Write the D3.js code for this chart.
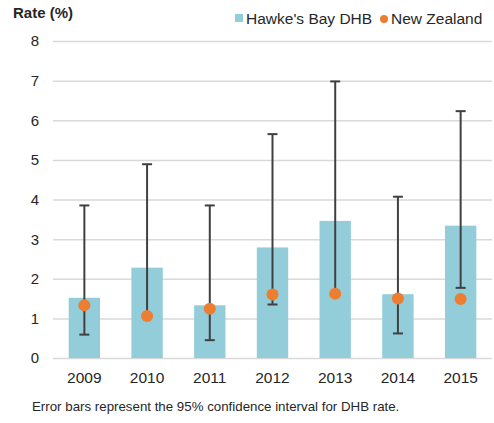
<!DOCTYPE html>
<html lang="en">
<head>
<meta charset="UTF-8">
<title>Hawke's Bay DHB rate</title>
<style>
  body { margin: 0; background: #fff; }
  text { font-family: "Liberation Sans", Arial, sans-serif; fill: #262626; }
  .grid line { stroke: #d9d9d9; stroke-width: 1.5; }
  .grid .domain { display: none; }
</style>
</head>
<body>
<svg width="494" height="423"></svg>
<script src="https://d3js.org/d3.v7.min.js"></script>
<script>
var years = ["2009", "2010", "2011", "2012", "2013", "2014", "2015"];
var dhbRate = [1.52, 2.28, 1.33, 2.79, 3.46, 1.61, 3.34];
var nzRate = [1.33, 1.06, 1.24, 1.60, 1.62, 1.50, 1.49];
var ciLow = [0.59, 1.10, 0.45, 1.35, 1.60, 0.62, 1.77];
var ciHigh = [3.85, 4.89, 3.85, 5.65, 6.98, 4.07, 6.23];
var yTicks = [0, 1, 2, 3, 4, 5, 6, 7, 8];

var svg = d3.select("svg");
var margin = {top: 41, left: 53, right: 2, bottom: 65};
var width = +svg.attr("width") - margin.left - margin.right;
var height = +svg.attr("height") - margin.top - margin.bottom;

var x = d3.scaleBand().domain(years).range([0, width]).paddingInner(0.5).paddingOuter(0.25);
var y = d3.scaleLinear().domain([0, 8]).range([height, 0]);

var g = svg.append("g").attr("transform", "translate(" + margin.left + "," + margin.top + ")");

// gridlines
g.append("g").attr("class", "grid")
    .call(d3.axisLeft(y).tickValues(yTicks).tickSize(-width).tickFormat(""));

// y labels
g.selectAll(".ylab").data(yTicks).enter().append("text")
    .attr("x", -14).attr("y", function(d) { return y(d); })
    .attr("dy", "0.36em").attr("text-anchor", "end")
    .style("font-size", "15px")
    .text(function(d) { return d; });

// bars
g.selectAll(".bar").data(years).enter().append("rect")
    .attr("x", function(d) { return x(d); })
    .attr("width", x.bandwidth())
    .attr("y", function(d, i) { return y(dhbRate[i]); })
    .attr("height", function(d, i) { return y(0) - y(dhbRate[i]); })
    .attr("fill", "#93cdda");

// error bars
var cap = 8;
var eb = g.selectAll(".err").data(years).enter().append("g")
    .attr("stroke", "#404040").attr("stroke-width", 2);
eb.append("line")
    .attr("x1", function(d) { return x(d) + x.bandwidth() / 2; })
    .attr("x2", function(d) { return x(d) + x.bandwidth() / 2; })
    .attr("y1", function(d, i) { return y(ciLow[i]); })
    .attr("y2", function(d, i) { return y(ciHigh[i]); });
eb.append("line")
    .attr("x1", function(d) { return x(d) + x.bandwidth() / 2 - cap / 2 - 1; })
    .attr("x2", function(d) { return x(d) + x.bandwidth() / 2 + cap / 2 + 1; })
    .attr("y1", function(d, i) { return y(ciLow[i]); })
    .attr("y2", function(d, i) { return y(ciLow[i]); });
eb.append("line")
    .attr("x1", function(d) { return x(d) + x.bandwidth() / 2 - cap / 2 - 1; })
    .attr("x2", function(d) { return x(d) + x.bandwidth() / 2 + cap / 2 + 1; })
    .attr("y1", function(d, i) { return y(ciHigh[i]); })
    .attr("y2", function(d, i) { return y(ciHigh[i]); });

// NZ dots
g.selectAll(".dot").data(years).enter().append("circle")
    .attr("cx", function(d) { return x(d) + x.bandwidth() / 2; })
    .attr("cy", function(d, i) { return y(nzRate[i]); })
    .attr("r", 6)
    .attr("fill", "#ed7d31");

// x labels
g.selectAll(".xlab").data(years).enter().append("text")
    .attr("x", function(d) { return x(d) + x.bandwidth() / 2; })
    .attr("y", height + 25)
    .attr("text-anchor", "middle")
    .style("font-size", "15.5px")
    .text(function(d) { return d; });

// title
svg.append("text").attr("x", 13).attr("y", 18)
    .style("font-size", "15px").style("font-weight", "bold")
    .text("Rate (%)");

// legend
svg.append("rect").attr("x", 235).attr("y", 14).attr("width", 8).attr("height", 8).attr("fill", "#93cdda");
svg.append("text").attr("x", 246).attr("y", 24).style("font-size", "15.5px").text("Hawke's Bay DHB");
svg.append("circle").attr("cx", 384).attr("cy", 19).attr("r", 4).attr("fill", "#ed7d31");
svg.append("text").attr("x", 391).attr("y", 24).style("font-size", "15.5px").text("New Zealand");

// footnote
svg.append("text").attr("x", 32).attr("y", 411)
    .style("font-size", "13.3px")
    .text("Error bars represent the 95% confidence interval for DHB rate.");
</script>
</body>
</html>
